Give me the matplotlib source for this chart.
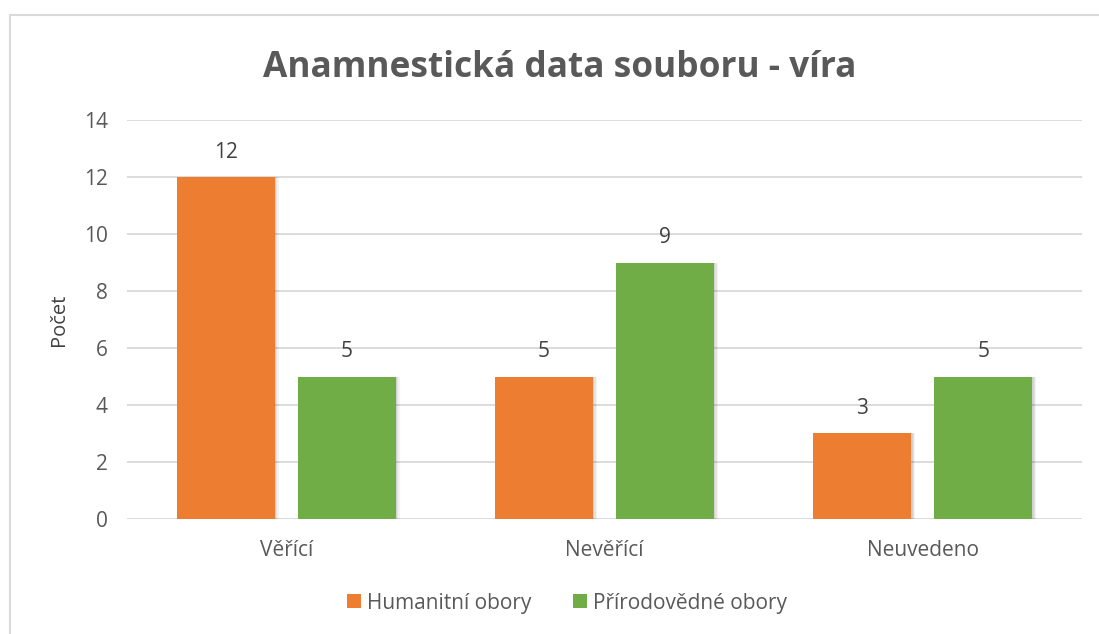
import matplotlib.pyplot as plt
import numpy as np
from matplotlib.lines import Line2D

categories = ['Věřící', 'Nevěřící', 'Neuvedeno']
humanitni = [12, 5, 3]
prirodovedne = [5, 9, 5]
series_names = ['Humanitní obory', 'Přírodovědné obory']
yticks = [0, 2, 4, 6, 8, 10, 12, 14]

plt.rcParams['font.family'] = ['Open Sans', 'DejaVu Sans']
gray = '#595959'

fig = plt.figure(figsize=(10.99, 6.34), dpi=100)
ax = fig.add_axes([0.1156, 0.1814, 0.869, 0.6293])

x = np.arange(len(categories))
w = 0.308
off = 0.19

# soft shadow, a bit to the right and below
for xs, vals in ((x - off, humanitni), (x + off, prirodovedne)):
    for k, a in ((0.012, 0.05), (0.008, 0.06), (0.004, 0.08)):
        ax.bar(xs + k / 2, np.array(vals) + 0.02, w + k, bottom=-0.02, color='black',
               alpha=a, linewidth=0, zorder=2)

b1 = ax.bar(x - off, humanitni, w, color='#ed7d31', zorder=3, label=series_names[0])
b2 = ax.bar(x + off, prirodovedne, w, color='#70ad47', zorder=3, label=series_names[1])

for bars, vals in ((b1, humanitni), (b2, prirodovedne)):
    for r, v in zip(bars, vals):
        ax.text(r.get_x() + r.get_width() / 2, v + 0.5, str(v), ha='center', va='bottom',
                fontsize=15, color='#404040')

ax.set_xlim(-0.5, 2.5)
ax.set_ylim(0, 14)
ax.set_yticks(yticks)
ax.set_xticks(x)
ax.set_xticklabels(categories)
ax.tick_params(axis='both', length=0, labelsize=15, labelcolor=gray)
ax.tick_params(axis='x', pad=15)
ax.tick_params(axis='y', pad=14)
ax.grid(axis='y', color='#d9d9d9', linewidth=1.3, zorder=0)
for s in ax.spines.values():
    s.set_visible(False)
ax.set_ylabel('Počet', fontsize=14.5, color='#404040')
ax.yaxis.set_label_coords(-0.0605, 0.5)

fig.text(560 / 1099, 1 - 68 / 634, 'Anamnestická data souboru - víra', fontsize=25.4,
         fontweight='bold', color=gray, ha='center', va='center')

leg = fig.legend(handles=[b1, b2], labels=series_names, loc='center', bbox_to_anchor=(567 / 1099, 1 - 603 / 634),
                 ncol=2, frameon=False, fontsize=15, handlelength=0.65, handleheight=0.65,
                 handletextpad=0.3, columnspacing=2.0, labelcolor=gray)

# chart border
fig.add_artist(Line2D([0.0091, 0.0091], [0, 1 - 14.5 / 634], color='#d9d9d9', linewidth=1.5))
fig.add_artist(Line2D([0.0091, 1], [1 - 14.5 / 634, 1 - 14.5 / 634], color='#d9d9d9', linewidth=1.5))

fig.savefig('out.png', dpi=100)
